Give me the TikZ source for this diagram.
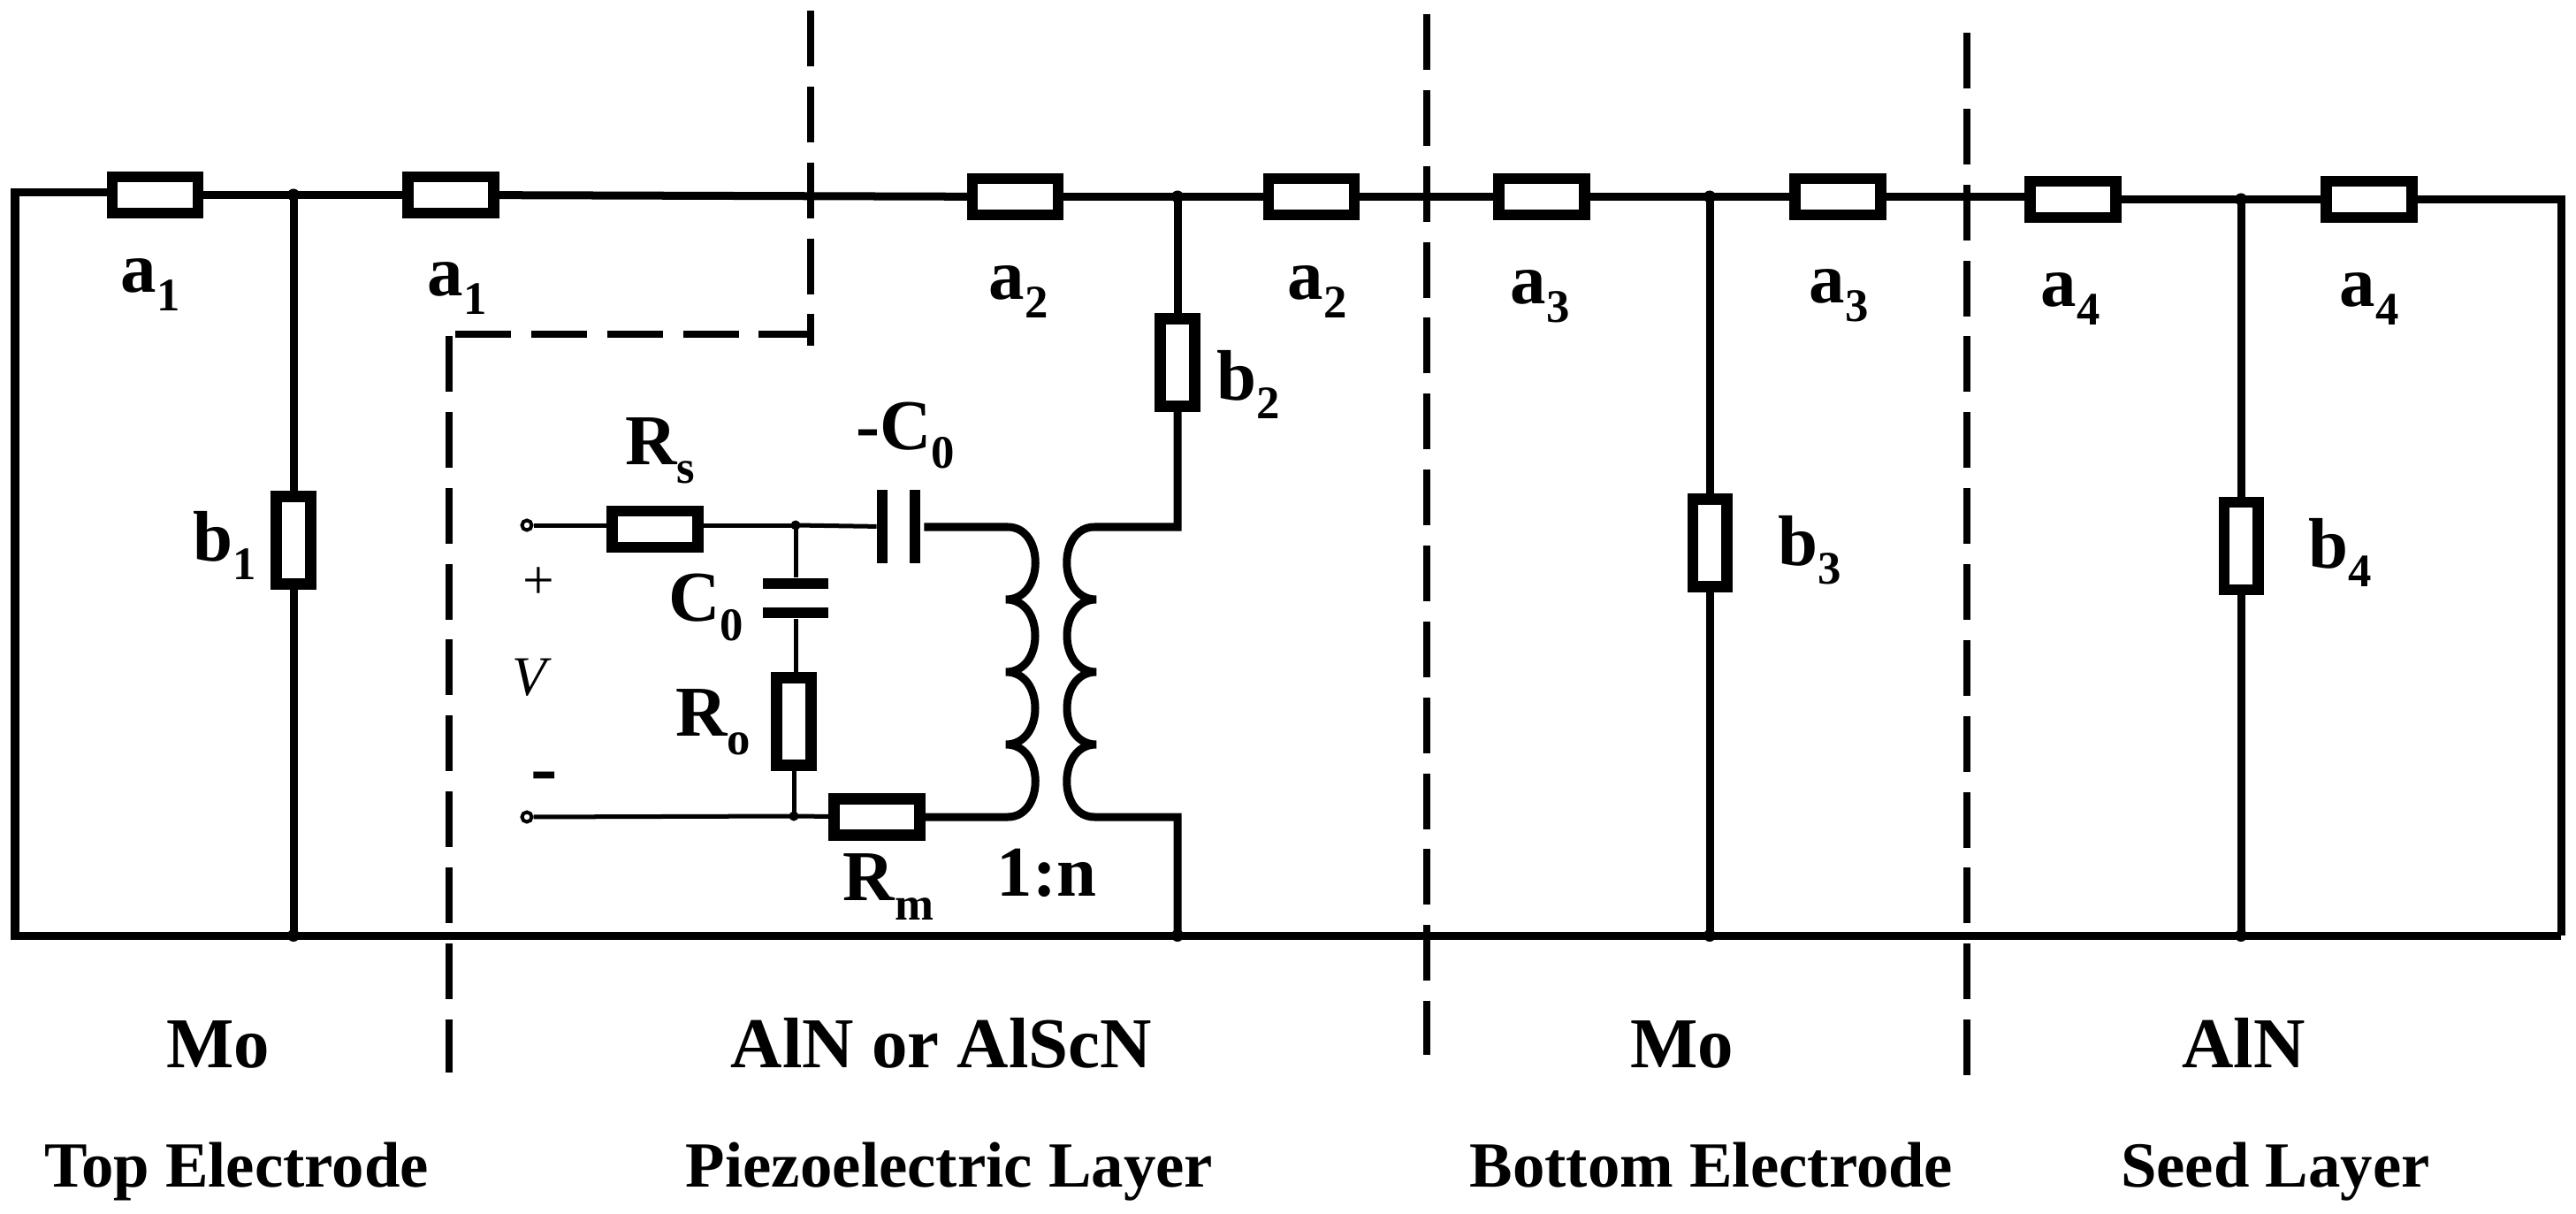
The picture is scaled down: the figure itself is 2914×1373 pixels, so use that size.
\documentclass[tikz,border=0pt]{standalone}
\usepackage{fontspec}
\setmainfont{Liberation Serif}
\usepackage{tikz}
\newcommand{\lsub}[1]{\raisebox{-6pt}{\fontsize{15}{15}\selectfont #1}}
\tikzstyle{res} = [rectangle, 
minimum width=0.965cm, 
minimum height=0.405cm, 
inner sep=0pt, 
line width=0.125cm, 
draw=black, 
fill=white]
\tikzstyle{resv} = [rectangle, 
minimum width=0.385cm, 
minimum height=0.985cm, 
inner sep=0pt, 
line width=0.125cm, 
draw=black, 
fill=white]
\tikzstyle{platev} = [rectangle, minimum width=0.115cm, minimum height=0.83cm, inner sep=0pt, fill=black]
\tikzstyle{plateh} = [rectangle, minimum width=0.74cm, minimum height=0.125cm, inner sep=0pt, fill=black]
\tikzstyle{dot} = [circle, minimum size=0.14cm, inner sep=0pt, fill=black]
\tikzstyle{dotin} = [circle, minimum size=0.11cm, inner sep=0pt, fill=black]
\tikzstyle{term} = [circle, minimum size=0.11cm, inner sep=0pt, line width=0.04cm, draw=black, fill=white]
\tikzstyle{lab} = [inner sep=0pt, font=\fontsize{23}{23}\selectfont\bfseries]
\tikzstyle{layername} = [inner sep=0pt, anchor=base, font=\fontsize{20.7}{20.7}\selectfont\bfseries]
\tikzstyle{plainlab} = [inner sep=0pt, font=\fontsize{18}{18}\selectfont]
\tikzstyle{wire} = [line width=0.09cm, line join=miter]
\tikzstyle{wirein} = [line width=0.05cm]
\tikzstyle{bound} = [line width=0.08cm, dash pattern=on 0.63cm off 0.228cm]

\begin{document}
\begin{tikzpicture}[x=0.01cm, y=-0.01cm]
\useasboundingbox (0,0) rectangle (2914,1373);

% outer ladder
\coordinate (lt) at (17,217.5);
\coordinate (lb) at (17,1058);
\coordinate (rt) at (2897,225.5);
\coordinate (rb) at (2897,1058);

\node (ra1) [res] at (175.5,220.5) {};
\node (ra1b) [res] at (510,220.5) {};
\node (ra2) [res] at (1148.5,222.5) {};
\node (ra2b) [res] at (1483.5,222.5) {};
\node (ra3) [res] at (1744,222.5) {};
\node (ra3b) [res] at (2079,222.5) {};
\node (ra4) [res] at (2345,225.5) {};
\node (ra4b) [res] at (2680,225.5) {};

\node (rb1) [resv] at (332,611) {};
\node (rb2) [resv] at (1332,410) {};
\node (rb3) [resv] at (1934,614) {};
\node (rb4) [resv] at (2535,617.5) {};

\node (j1) [dot] at (332,220.5) {};
\node (j2) [dot] at (1332,222.5) {};
\node (j3) [dot] at (1934,222.5) {};
\node (j4) [dot] at (2535,225.5) {};
\node (k1) [dot] at (332,1058) {};
\node (k2) [dot] at (1332,1058) {};
\node (k3) [dot] at (1934,1058) {};
\node (k4) [dot] at (2535,1058) {};

\draw [wire] (rb) -- (lb) -- (lt) -- (lt -| ra1.west);
\draw [wire] (ra1) -- (j1.center);
\draw [wire] (j1.center) -- (ra1b);
\draw [wire] (ra1b) -- (ra2);
\draw [wire] (ra2) -- (j2.center);
\draw [wire] (j2.center) -- (ra2b);
\draw [wire] (ra2b) -- (ra3);
\draw [wire] (ra3) -- (j3.center);
\draw [wire] (j3.center) -- (ra3b);
\draw [wire] (ra3b) -- (ra3b -| ra4.west);
\draw [wire] (ra4) -- (j4.center);
\draw [wire] (j4.center) -- (ra4b);
\draw [wire] (ra4b) -- (rt) -- (rb);
\draw [wire] (j1.center) -- (rb1);
\draw [wire] (rb1) -- (k1.center);
\draw [wire] (j2.center) -- (rb2);
\draw [wire] (j3.center) -- (rb3);
\draw [wire] (rb3) -- (k3.center);
\draw [wire] (j4.center) -- (rb4);
\draw [wire] (rb4) -- (k4.center);

% source branch
\node (ta) [term] at (596,594) {};
\node (tb) [term] at (596,924) {};
\node (rs) [res] at (741,598.5) {};
\node (rm) [res] at (992,924) {};
\node (ro) [resv] at (898,816) {};
\node (j5) [dotin] at (900,594) {};
\node (j6) [dotin] at (898,923) {};
\node (capa) [platev] at (998,595.5) {};
\node (capb) [platev] at (1035,595.5) {};
\node (cpa) [plateh] at (900,660) {};
\node (cpb) [plateh] at (900,693) {};

\draw [wirein] (ta) -- (ta -| rs.west);
\draw [wirein] (j5 -| rs.east) -- (j5.center);
\draw [wirein] (j5.center) -- (capa);
\draw [wirein] (j5.center) -- (cpa);
\draw [wirein] (cpb) -- (cpb |- ro.north);
\draw [wirein] (ro) -- (j6.center);
\draw [wirein] (tb) -- (j6.center);
\draw [wirein] (j6.center) -- (rm);

% transformer
\coordinate (pa) at (1140,596);
\coordinate (pb) at (1140,924);
\coordinate (sa) at (1238,596);
\coordinate (sb) at (1238,924);
\coordinate (st) at (1332,596);
\coordinate (sd) at (1332,924);
\draw [wire, shorten <=0.04cm] (capb.east |- pa) -- (pa)
  .. controls (1182,596) and (1182,678) .. (1138,678)
  .. controls (1182,678) and (1182,760) .. (1138,760)
  .. controls (1182,760) and (1182,842) .. (1138,842)
  .. controls (1182,842) and (1182,924) .. (pb) -- (rm);
\draw [wire] (rb2) -- (st) -- (sa)
  .. controls (1196,596) and (1196,678) .. (1240,678)
  .. controls (1196,678) and (1196,760) .. (1240,760)
  .. controls (1196,760) and (1196,842) .. (1240,842)
  .. controls (1196,842) and (1196,924) .. (sb) -- (sd) -- (k2.center);

% layer boundaries
\draw [bound] (917,12) -- (917,391);
\draw [bound] (515,378) -- (917,378);
\draw [bound] (507.5,380) -- (507.5,1213);
\draw [bound] (1613.5,16) -- (1613.5,1193);
\draw [bound] (2224.5,37) -- (2224.5,1216);

% labels
\node (la1) [lab] at (170,322) {a\lsub{1}};
\node (la1b) [lab] at (517,326) {a\lsub{1}};
\node (la2) [lab] at (1152,330) {a\lsub{2}};
\node (la2b) [lab] at (1490,330) {a\lsub{2}};
\node (la3) [lab] at (1742,335) {a\lsub{3}};
\node (la3b) [lab] at (2080,334) {a\lsub{3}};
\node (la4) [lab] at (2342,338) {a\lsub{4}};
\node (la4b) [lab] at (2680,338) {a\lsub{4}};
\node (lb1) [lab] at (254,617) {b\lsub{1}};
\node (lb2) [lab] at (1412,435) {b\lsub{2}};
\node (lb3) [lab] at (2047,622) {b\lsub{3}};
\node (lb4) [lab] at (2647,625) {b\lsub{4}};
\node (lrs) [lab] at (746.5,510) {R\lsub{s}};
\node (lcm) [lab] at (1024,492.5) {-C\lsub{0}};
\node (lc0) [lab] at (798.5,687) {C\lsub{0}};
\node (lro) [lab] at (806.5,817) {R\lsub{o}};
\node (lrm) [lab] at (1005,1003) {R\lsub{m}};
\node (ln) [lab] at (1184,987.5) {1:n};
\node (lp) [plainlab] at (609,660) {+};
\node (lv) [plainlab] at (599,766) {\itshape V};
\node (lm) [lab, anchor=base, font=\fontsize{26}{26}\selectfont\bfseries] at (616,898) {-};

\node (m1) [lab, anchor=base] at (247,1207) {Mo};
\node (m2) [lab, anchor=base] at (1065,1207) {AlN or AlScN};
\node (m3) [lab, anchor=base] at (1902.5,1207) {Mo};
\node (m4) [lab, anchor=base] at (2538,1207) {AlN};
\node (c1) [layername] at (267.5,1342) {Top Electrode};
\node (c2) [layername] at (1074,1342) {Piezoelectric Layer};
\node (c3) [layername] at (1936,1342) {Bottom Electrode};
\node (c4) [layername] at (2574,1342) {Seed Layer};

\end{tikzpicture}
\end{document}
